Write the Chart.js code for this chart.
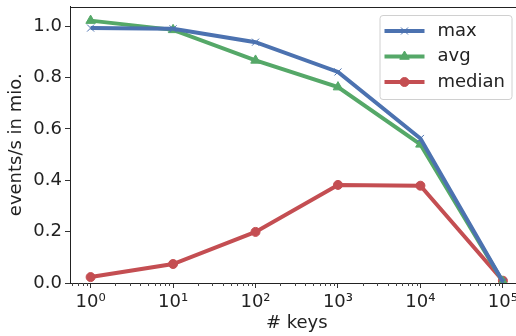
<!DOCTYPE html>
<html>
<head>
<meta charset="utf-8">
<script src="https://cdn.jsdelivr.net/npm/chart.js@4"></script>
<style>
  html, body { margin: 0; padding: 0; background: #fff; overflow: hidden; }
  #wrap { width: 530px; height: 336px; }
</style>
</head>
<body>
<div id="wrap"><canvas id="chart" width="530" height="336"></canvas></div>
<script>
// values
const keys = [1, 10, 100, 1000, 10000, 100000];
const maxVals = [0.993, 0.990, 0.938, 0.822, 0.563, 0.005];
const avgVals = [1.022, 0.986, 0.867, 0.763, 0.540, 0.005];
const medianVals = [0.023, 0.074, 0.199, 0.382, 0.379, 0.009];
const yTicks = [0, 0.2, 0.4, 0.6, 0.8, 1.0];
const xTicks = [1, 10, 100, 1000, 10000, 100000];

const sup = ['\u2070', '\u00b9', '\u00b2', '\u00b3', '\u2074', '\u2075'];
const FONT = 'DejaVu Sans';
const FS = 18;
const pts = vals => keys.map((k, i) => ({ x: k, y: vals[i] }));

// top spine, minor ticks and the floating legend
const extras = {
    id: 'extras',
    afterDraw(chart) {
        const ctx = chart.ctx;
        const a = chart.chartArea;
        const xs = chart.scales.x;
        ctx.save();
        ctx.strokeStyle = '#222';
        ctx.lineWidth = 1;
        ctx.beginPath();
        ctx.moveTo(a.left, Math.round(a.top) + 0.5);
        ctx.lineTo(a.right, Math.round(a.top) + 0.5);
        ctx.stroke();

        // minor ticks
        ctx.strokeStyle = '#444';
        for (let e = -1; e <= 5; e++) {
            for (let m = 2; m <= 9; m++) {
                const v = m * Math.pow(10, e);
                if (v < xs.min || v > xs.max) continue;
                const px = Math.round(xs.getPixelForValue(v)) + 0.5;
                ctx.beginPath();
                ctx.moveTo(px, a.bottom);
                ctx.lineTo(px, a.bottom + 3);
                ctx.stroke();
            }
        }

        // legend
        const bx = a.right - 144, by = 15, bw = 132, bh = 84;
        ctx.fillStyle = 'rgba(255,255,255,0.8)';
        ctx.strokeStyle = '#d0d0d0';
        ctx.beginPath();
        ctx.roundRect(bx + 0.5, by + 0.5, bw, bh, 3);
        ctx.fill();
        ctx.stroke();
        chart.data.datasets.forEach((ds, i) => {
            const y = by + 16 + i * 25.5;
            ctx.strokeStyle = ds.borderColor;
            ctx.lineWidth = ds.borderWidth;
            ctx.beginPath();
            ctx.moveTo(bx + 5, y);
            ctx.lineTo(bx + 45, y);
            ctx.stroke();
            ctx.fillStyle = ds.backgroundColor;
            ctx.lineWidth = ds.pointBorderWidth;
            Chart.helpers.drawPoint(ctx, {
                pointStyle: ds.pointStyle,
                radius: ds.pointRadius,
                borderWidth: ds.pointBorderWidth,
                rotation: 0
            }, bx + 25, y);
            ctx.fillStyle = '#222';
            ctx.font = FS + 'px "' + FONT + '"';
            ctx.textBaseline = 'middle';
            ctx.fillText(ds.label, bx + 58, y);
        });
        ctx.restore();
    }
};

new Chart(document.getElementById('chart'), {
    type: 'line',
    data: {
        datasets: [{
            label: 'max',
            data: pts(maxVals),
            borderColor: '#4c72b0',
            backgroundColor: '#4c72b0',
            borderWidth: 4,
            pointStyle: 'crossRot',
            pointRadius: 5,
            pointBorderWidth: 1
        }, {
            label: 'avg',
            data: pts(avgVals),
            borderColor: '#55a868',
            backgroundColor: '#55a868',
            borderWidth: 4,
            pointStyle: 'triangle',
            pointRadius: 5.5,
            pointBorderWidth: 1
        }, {
            label: 'median',
            data: pts(medianVals),
            borderColor: '#c44e52',
            backgroundColor: '#c44e52',
            borderWidth: 4,
            pointStyle: 'circle',
            pointRadius: 4.5,
            pointBorderWidth: 1
        }]
    },
    options: {
        responsive: false,
        animation: false,
        layout: { padding: { top: 6, right: 5, left: 0, bottom: 0 } },
        plugins: {
            legend: { display: false },
            tooltip: { enabled: false }
        },
        scales: {
            x: {
                type: 'logarithmic',
                min: Math.pow(10, -0.25),
                max: Math.pow(10, 5.25),
                afterBuildTicks: s => { s.ticks = xTicks.map(v => ({ value: v })); },
                afterFit: s => { s.height = 53; s.paddingLeft = 0; s.paddingRight = 0; },
                grid: { drawOnChartArea: false, tickLength: 5, color: '#333' },
                border: { color: '#222', width: 1 },
                ticks: {
                    font: { family: FONT, size: FS },
                    color: '#222',
                    padding: 4,
                    maxRotation: 0,
                    autoSkip: false,
                    callback: v => '10' + sup[Math.round(Math.log10(v))]
                },
                title: {
                    display: true,
                    text: '# keys',
                    font: { family: FONT, size: FS },
                    color: '#222',
                    padding: { top: 0, bottom: 2 }
                }
            },
            y: {
                min: 0,
                max: 1.077,
                afterBuildTicks: s => { s.ticks = yTicks.map(v => ({ value: v })); },
                afterFit: s => { s.width = 70; s.paddingTop = 0; s.paddingBottom = 0; },
                grid: { drawOnChartArea: false, tickLength: 5, color: '#333' },
                border: { color: '#222', width: 1 },
                ticks: {
                    font: { family: FONT, size: FS },
                    color: '#222',
                    padding: 3,
                    callback: v => v.toFixed(1)
                },
                title: {
                    display: true,
                    text: 'events/s in mio.',
                    font: { family: FONT, size: FS },
                    color: '#222',
                    padding: { top: 6, bottom: 0 }
                }
            }
        }
    },
    plugins: [extras]
});
</script>
</body>
</html>
